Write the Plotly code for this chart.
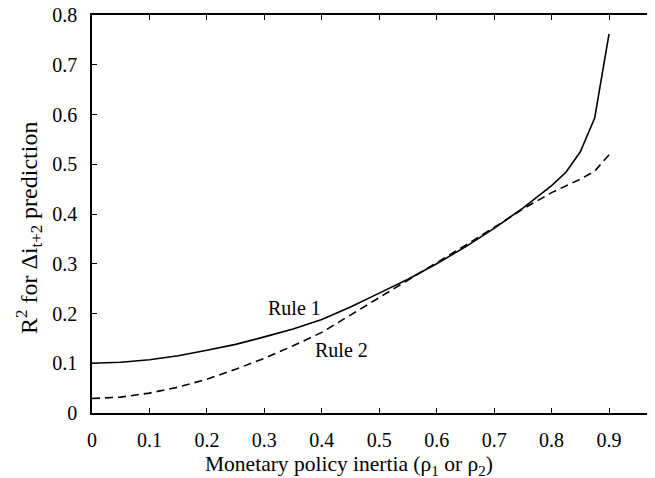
import plotly.graph_objects as go

inertia = [0, 0.05, 0.1, 0.15, 0.2, 0.25, 0.3, 0.35, 0.4, 0.45, 0.5, 0.55,
           0.6, 0.65, 0.7, 0.75, 0.8, 0.825, 0.85, 0.875, 0.9]
rule1_r2 = [0.100, 0.102, 0.107, 0.115, 0.126, 0.138, 0.153, 0.169, 0.188, 0.213,
            0.241, 0.269, 0.300, 0.334, 0.371, 0.412, 0.457, 0.484, 0.525, 0.593, 0.762]
rule2_r2 = [0.029, 0.032, 0.040, 0.052, 0.068, 0.088, 0.110, 0.135, 0.162, 0.197,
            0.232, 0.266, 0.301, 0.337, 0.373, 0.410, 0.443, 0.456, 0.470, 0.486, 0.519]

x_ticks = [0, 0.1, 0.2, 0.3, 0.4, 0.5, 0.6, 0.7, 0.8, 0.9]
x_tick_text = ["0", "0.1", "0.2", "0.3", "0.4", "0.5", "0.6", "0.7", "0.8", "0.9"]
y_ticks = [0, 0.1, 0.2, 0.3, 0.4, 0.5, 0.6, 0.7, 0.8]
y_tick_text = ["0", "0.1", "0.2", "0.3", "0.4", "0.5", "0.6", "0.7", "0.8"]

FONT = "Liberation Serif, Times New Roman, serif"

fig = go.Figure()
fig.add_trace(go.Scatter(x=inertia, y=rule1_r2, mode="lines", name="Rule 1",
                         line=dict(color="black", width=1.6)))
fig.add_trace(go.Scatter(x=inertia, y=rule2_r2, mode="lines", name="Rule 2",
                         line=dict(color="black", width=1.6, dash="8px,5px")))

fig.add_annotation(x=0.352, y=0.212, text="Rule 1", showarrow=False,
                   font=dict(family=FONT, size=20, color="black"))
fig.add_annotation(x=0.434, y=0.127, text="Rule 2", showarrow=False,
                   font=dict(family=FONT, size=20, color="black"))

# axis titles
fig.add_annotation(x=0.447, xref="x", y=0, yref="paper", yanchor="middle",
                   yshift=-52, showarrow=False,
                   text="Monetary policy inertia (ρ<sub>1</sub> or ρ<sub>2</sub>)",
                   font=dict(family=FONT, size=21.5, color="black"))
fig.add_annotation(x=0, xref="paper", xanchor="center", xshift=-63,
                   y=0.465, yref="paper", yanchor="middle", textangle=-90,
                   showarrow=False,
                   text="R<sup>2</sup> for Δi<sub>t+2</sub> prediction",
                   font=dict(family=FONT, size=24, color="black"))

# page body has an 8px default margin, so the figure is offset by 8px
fig.update_layout(
    width=647, height=470,
    margin=dict(l=84, r=0, t=7, b=65),
    paper_bgcolor="white", plot_bgcolor="white",
    showlegend=False,
    font=dict(family=FONT, size=18, color="black"),
    xaxis=dict(
        range=[0, 0.98], tickvals=x_ticks, ticktext=x_tick_text,
        ticks="inside", ticklen=5, tickwidth=1, tickcolor="black",
        showline=True, linecolor="black", linewidth=1.5, mirror="ticks",
        showgrid=False, zeroline=False, automargin=False,
        tickfont=dict(family=FONT, size=20), ticklabelstandoff=8,
        ticklabeloverflow="allow",
    ),
    yaxis=dict(
        range=[0, 0.8], tickvals=y_ticks, ticktext=y_tick_text,
        ticks="inside", ticklen=5, tickwidth=1, tickcolor="black",
        showline=True, linecolor="black", linewidth=1.5,
        showgrid=False, zeroline=False, automargin=False,
        tickfont=dict(family=FONT, size=20), ticklabelstandoff=9,
        ticklabeloverflow="allow",
    ),
)

fig.write_html("out.html")
